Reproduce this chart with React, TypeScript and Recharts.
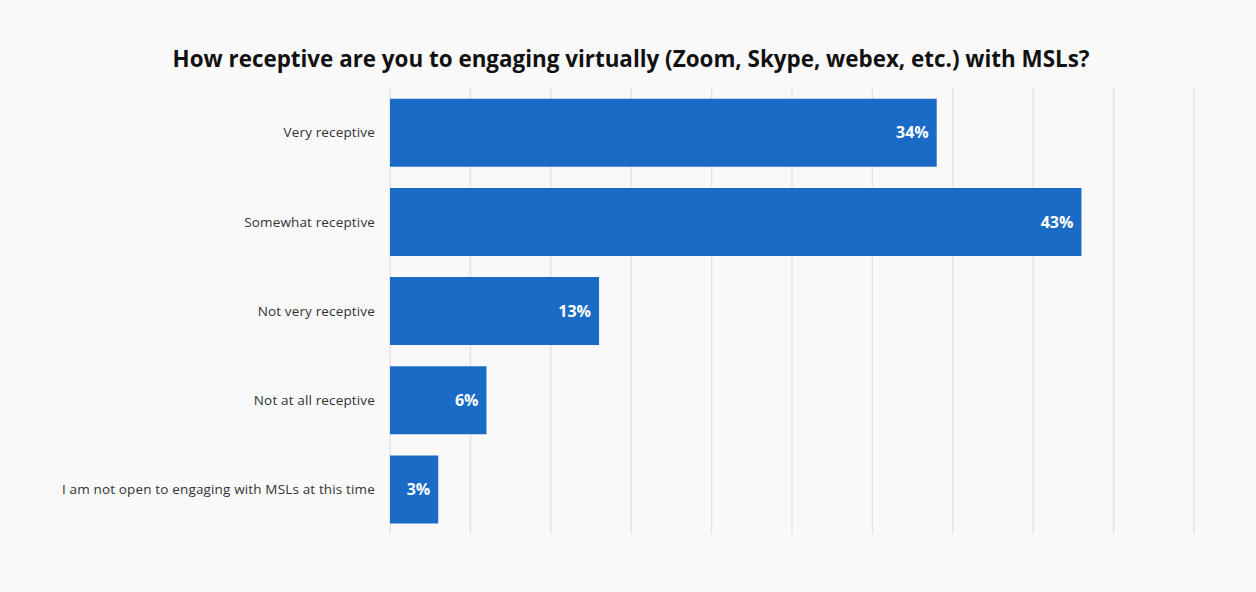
import React from "react";
import { BarChart, Bar, XAxis, YAxis, CartesianGrid, LabelList } from "recharts";

const categories = [
  "Very receptive",
  "Somewhat receptive",
  "Not very receptive",
  "Not at all receptive",
  "I am not open to engaging with MSLs at this time",
];
const values = [34, 43, 13, 6, 3];
const xTicks = [0, 5, 10, 15, 20, 25, 30, 35, 40, 45, 50];
const title = "How receptive are you to engaging virtually (Zoom, Skype, webex, etc.) with MSLs?";

const data = categories.map((c, i) => ({ name: c, value: values[i] }));

export default function App() {
  return (
    <div style={{ position: "absolute", left: 0, top: 0, width: 1256, height: 592, background: "#f9f9f9" }}>
      <div
        style={{
          position: "absolute",
          left: 0,
          top: 44,
          width: 1262,
          textAlign: "center",
          fontFamily: "'Open Sans', sans-serif",
          fontWeight: 700,
          fontSize: 22.4,
          color: "#111",
          lineHeight: "30px",
          whiteSpace: "nowrap",
        }}
      >
        {title}
      </div>
      <BarChart
        width={1256}
        height={592}
        data={data}
        layout="vertical"
        margin={{ top: 88, right: 62, bottom: 30, left: 0 }}
        barCategoryGap="12%"
      >
        <CartesianGrid horizontal={false} stroke="#e4e4e4" strokeWidth={1.5} />
        <XAxis
          type="number"
          domain={[0, 50]}
          ticks={xTicks}
          interval={0}
          tick={{ fill: "transparent", fontSize: 10 }}
          axisLine={false}
          tickLine={false}
          height={28}
        />
        <YAxis
          type="category"
          dataKey="name"
          width={390}
          axisLine={false}
          tickLine={false}
          tickSize={0}
          tickMargin={15}
          tick={{ fontFamily: "'Open Sans', sans-serif", fontSize: 13.5, fill: "#333", letterSpacing: 0.15 }}
        />
        <Bar dataKey="value" fill="#1a6bc6" isAnimationActive={false}>
          <LabelList
            dataKey="value"
            position="insideRight"
            offset={8}
            formatter={(v: number) => `${v}%`}
            style={{ fill: "#fff", fontFamily: "'Open Sans', sans-serif", fontWeight: 700, fontSize: 16 }}
          />
        </Bar>
      </BarChart>
    </div>
  );
}
